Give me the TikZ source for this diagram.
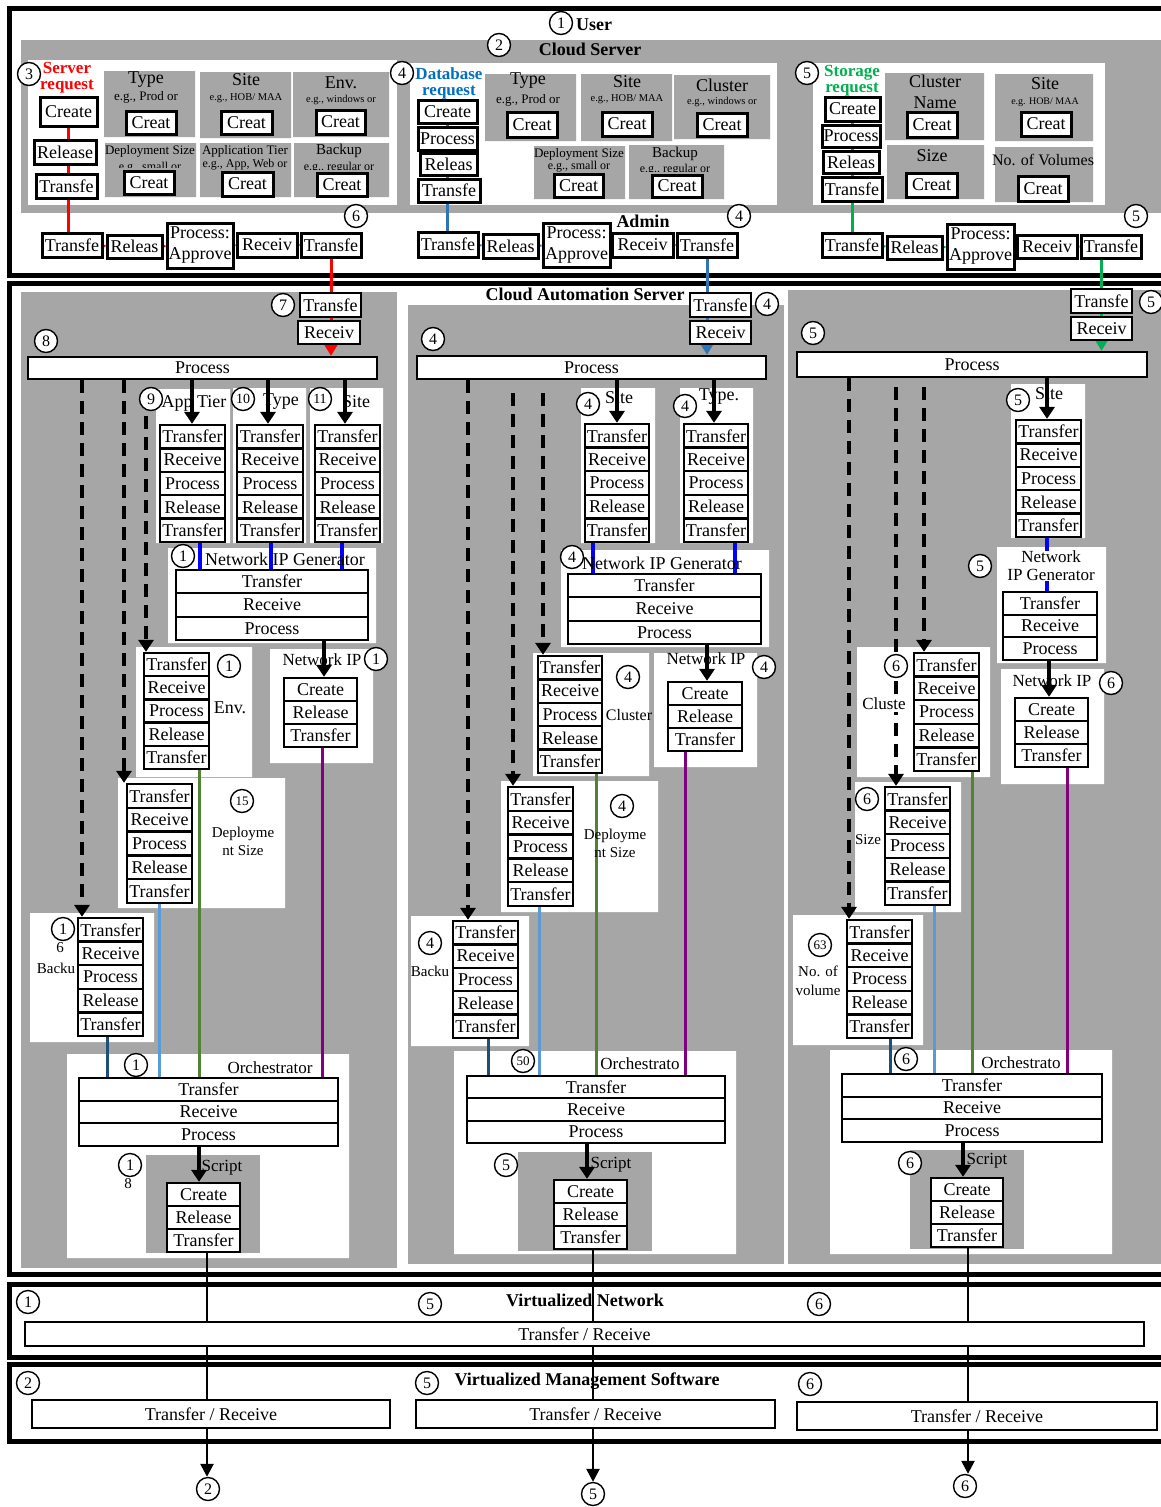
\documentclass[tikz,border=0pt]{standalone}
\usepackage{fontspec}
\setmainfont{Liberation Serif}
\usetikzlibrary{arrows.meta}
\pgfdeclarelayer{back}\pgfdeclarelayer{mid}\pgfsetlayers{back,mid,main}
\definecolor{pgray}{RGB}{166,166,166}
\definecolor{dbline}{RGB}{46,117,182}
\definecolor{dbtext}{RGB}{0,112,192}
\definecolor{sgreen}{RGB}{0,176,80}
\definecolor{pblue}{RGB}{0,0,255}
\definecolor{ppurple}{RGB}{128,0,128}
\definecolor{lblue}{RGB}{91,155,213}
\definecolor{ogreen}{RGB}{84,130,53}
\definecolor{dblue}{RGB}{31,78,121}
\newcommand\fS[1]{\fontsize{#1}{#1}\selectfont}
\newcommand\PA{\begin{tabular}{@{}c@{}}Process:\\[3pt]Approve\end{tabular}}
\tikzset{
 bx/.style={draw, fill=white, line width=2.3pt, inner sep=0pt, font={\fS{18}}},
 tb/.style={draw, fill=white, line width=3pt, inner sep=0pt, font={\fS{18}}},
 cnum/.style={circle, draw, fill=white, line width=1.4pt, minimum size=23pt, inner sep=0pt, font={\fS{16}}},
 lbl/.style={inner sep=0pt, font={\fS{17}}, align=center},
 conn/.style={line width=3pt},
 dline/.style={line width=4pt, dash pattern=on 13pt off 8pt, -{Triangle[width=15pt,length=12pt]}},
 sarr/.style={line width=4pt, -{Triangle[width=15pt,length=12pt]}},
 carr/.style={line width=3pt, -{Triangle[width=15pt,length=13pt]}},
 barr/.style={line width=2.5pt, -{Triangle[width=13pt,length=13pt]}},
}
\newcommand\bx[7][bx]{\node[#1,minimum width={(#5)-(#3)},minimum height={(#6)-(#4)}] (#2) at ({((#3)+(#5))/2},{((#4)+(#6))/2}) {\makebox[0pt]{#7}};}
\newcommand\stk[7]{\foreach \i/\lb in #7{\pgfmathsetmacro\ya{#4+(\i-1)*(#5-#4)/#6}\pgfmathsetmacro\yb{#4+\i*(#5-#4)/#6}\bx{#1-\i}{#2}{\ya}{#3}{\yb}{\lb}}}
\newcommand\cn[4][]{\node[cnum,#1] (#2) at (#3) {#4};}
\def\FIVE{1/Transfer,2/Receive,3/Process,4/Release,5/Transfer}
\def\TRP{1/Transfer,2/Receive,3/Process}
\def\CRT{1/Create,2/Release,3/Transfer}
\begin{document}
\begin{tikzpicture}[x=1pt,y=-1pt]
\useasboundingbox (0,0) rectangle (1160,1507);
\begin{pgfonlayer}{back}
\fill[white] (0,0) rectangle (1160,1507);
\draw[line width=5pt] (9,8) rectangle (1190,275);
\draw[line width=5pt] (9,283) rectangle (1190,1274);
\draw[line width=5pt] (9,1284) rectangle (1190,1357);
\draw[line width=5pt] (9,1364) rectangle (1190,1441);
\fill[pgray] (21,40) rectangle (1190,213);
\fill[white] (28,60) rectangle (397,205);
\fill[white] (410,63) rectangle (777,205);
\fill[white] (813,63) rectangle (1105,205);
\fill[pgray] (104,71) rectangle (195,137) (200,72) rectangle (291,138) (293,72) rectangle (389,137) (105,143) rectangle (196,197) (200,143) rectangle (291,197) (294,143) rectangle (389,197);
\fill[pgray] (485,74) rectangle (576,141) (581,74) rectangle (672,141) (674,75) rectangle (770,139) (534,146) rectangle (625,199) (629,145) rectangle (724,199);
\fill[pgray] (885,73) rectangle (984,140) (995,74) rectangle (1093,141) (887,145) rectangle (984,199) (995,147) rectangle (1093,202);
\fill[pgray] (21,292) rectangle (397,1268);
\fill[pgray] (408,305) rectangle (784,1264);
\fill[pgray] (788,290) rectangle (1190,1264);
\fill[white] (156,389) rectangle (230,543) (233,388) rectangle (306,543) (310,388) rectangle (383,543) (168,548) rectangle (376,643) (136,647) rectangle (252,777) (270,649) rectangle (373,763) (118,778) rectangle (285,908) (30,913) rectangle (154,1042) (67,1054) rectangle (349,1258);
\fill[pgray] (146,1155) rectangle (260,1253);
\fill[white] (581,388) rectangle (655,543) (680,388) rectangle (753,543) (561,550) rectangle (769,647) (533,653) rectangle (649,776) (654,653) rectangle (757,767) (501,781) rectangle (658,912) (411,916) rectangle (529,1046) (454,1051) rectangle (736,1254);
\fill[pgray] (518,1152) rectangle (652,1251);
\fill[white] (1011,384) rectangle (1085,538) (997,547) rectangle (1106,663) (857,647) rectangle (990,777) (1001,669) rectangle (1104,784) (855,782) rectangle (961,912) (793,915) rectangle (923,1045) (830,1050) rectangle (1112,1254);
\fill[pgray] (910,1150) rectangle (1024,1249);
\end{pgfonlayer}
% ---------- top titles
\cn{cU}{561,23}{1}
\node[lbl,font={\bfseries\fS{18}}] (tU) at (594,25) {User};
\cn{cCS}{499,45}{2}
\node[lbl,font={\bfseries\fS{18}}] (tCS) at (590,49) {Cloud Server};
% ---------- server request
\cn{c3}{29,74}{3}
\node[lbl,text=red,font={\bfseries\fontsize{17}{16}\selectfont}] (tSR) at (67,78) {Server\\request};
\bx[tb]{sC}{40}{97}{97}{126}{Create}
\bx[tb]{sRl}{34}{140}{96}{164}{Release}
\bx[tb]{sTf}{36}{174}{97}{198}{Transfe}
\node[lbl,font={\fS{18}}] (sty) at (146,80) {Type};
\node[lbl,font={\fS{13}}] (styE) at (146,97) {e.g., Prod or};
\bx[tb]{sty1}{126}{111}{176}{134}{Creat}
\node[lbl,font={\fS{18}}] (sst) at (246,80) {Site};
\node[lbl,font={\fS{10.5}}] (sstE) at (246,98) {e.g., HOB/ MAA};
\bx[tb]{sst1}{221}{111}{272}{134}{Creat}
\node[lbl,font={\fS{18}}] (sen) at (341,83) {Env.};
\node[lbl,font={\fS{10.5}}] (senE) at (341,100) {e.g., windows or};
\bx[tb]{sen1}{316}{110}{365}{134}{Creat}
\node[lbl,font={\fS{13}}] (sds) at (150,151) {Deployment Size};
\begin{scope}\clip (105,143) rectangle (196,167);
\node[lbl,font={\fS{12}}] (sdsE) at (150,168) {e.g., small or};
\end{scope}
\bx[tb]{sds1}{124}{171}{174}{194}{Creat}
\node[lbl,font={\fS{13}}] (sat) at (245,151) {Application Tier};
\node[lbl,font={\fS{12}}] (satE) at (245,165) {e.g., App, Web or};
\bx[tb]{sat1}{222}{172}{273}{196}{Creat}
\node[lbl,font={\fS{15}}] (sbk) at (339,151) {Backup};
\begin{scope}\clip (294,143) rectangle (389,169);
\node[lbl,font={\fS{12}}] (sbkE) at (339,168) {e.g., regular or};
\end{scope}
\bx[tb]{sbk1}{317}{173}{367}{196}{Creat}
\bx[tb]{sr1}{42}{233}{102}{257}{Transfe}
\bx[tb]{sr2}{107}{235}{162}{258}{Releas}
\bx[tb]{sr3}{167}{223}{233}{268}{\PA}
\bx[tb]{sr4}{237}{233}{297}{257}{Receiv}
\bx[tb]{sr5}{301}{233}{361}{257}{Transfe}
\cn{c6t}{356,216}{6}
% ---------- database request
\cn{c4a}{402,73}{4}
\node[lbl,text=dbtext,font={\bfseries\fontsize{17}{16}\selectfont}] (tDB) at (449,83) {Database\\request};
\bx[tb]{dC}{418}{100}{477}{123}{Create}
\bx[tb]{dP}{418}{127}{477}{150}{Process}
\bx[tb]{dR}{420}{153}{477}{175}{Releas}
\bx[tb]{dT}{418}{179}{480}{202}{Transfe}
\node[lbl,font={\fS{18}}] (dty) at (528,81) {Type};
\node[lbl,font={\fS{13}}] (dtyE) at (528,100) {e.g., Prod or};
\bx[tb]{dty1}{507}{112}{557}{137}{Creat}
\node[lbl,font={\fS{18}}] (dst) at (627,82) {Site};
\node[lbl,font={\fS{10.5}}] (dstE) at (627,99) {e.g., HOB/ MAA};
\bx[tb]{dst1}{602}{112}{652}{136}{Creat}
\node[lbl,font={\fS{18}}] (dcl) at (722,85) {Cluster};
\node[lbl,font={\fS{10.5}}] (dclE) at (722,102) {e.g., windows or};
\bx[tb]{dcl1}{697}{113}{747}{136}{Creat}
\node[lbl,font={\fS{13}}] (dds) at (579,154) {Deployment Size};
\node[lbl,font={\fS{12}}] (ddsE) at (579,167) {e.g., small or};
\bx[tb]{dds1}{554}{174}{603}{197}{Creat}
\node[lbl,font={\fS{15}}] (dbk) at (675,154) {Backup};
\begin{scope}\clip (629,145) rectangle (724,171);
\node[lbl,font={\fS{12}}] (dbkE) at (675,170) {e.g., regular or};
\end{scope}
\bx[tb]{dbk1}{652}{175}{702}{197}{Creat}
\bx[tb]{dr1}{418}{232}{478}{257}{Transfe}
\bx[tb]{dr2}{483}{234}{538}{258}{Releas}
\bx[tb]{dr3}{543}{223}{610}{267}{\PA}
\bx[tb]{dr4}{612}{233}{673}{257}{Receiv}
\bx[tb]{dr5}{677}{233}{737}{257}{Transfe}
\node[lbl,font={\bfseries\fS{18}}] (tAd) at (643,221) {Admin};
\cn{c4b}{739,216}{4}
% ---------- storage request
\cn{c5a}{807,73}{5}
\node[lbl,text=sgreen,font={\bfseries\fontsize{17}{16}\selectfont}] (tST) at (852,81) {Storage\\request};
\bx[tb]{gC}{825}{97}{880}{121}{Create}
\bx[tb]{gP}{822}{125}{880}{147}{Process}
\bx[tb]{gR}{823}{151}{879}{173}{Releas}
\bx[tb]{gT}{822}{177}{882}{201}{Transfe}
\node[lbl,font={\fontsize{18}{21}\selectfont}] (gcn) at (935,92) {Cluster\\Name};
\bx[tb]{gcn1}{907}{112}{957}{137}{Creat}
\node[lbl,font={\fS{18}}] (gst) at (1045,84) {Site};
\node[lbl,font={\fS{10}}] (gstE) at (1045,102) {e.g. HOB/ MAA};
\bx[tb]{gst1}{1021}{112}{1071}{136}{Creat}
\node[lbl,font={\fS{18}}] (gsz) at (932,156) {Size};
\bx[tb]{gsz1}{906}{173}{957}{197}{Creat}
\node[lbl,font={\fS{16}}] (gnv) at (1043,160) {No. of Volumes};
\bx[tb]{gnv1}{1018}{176}{1068}{201}{Creat}
\bx[tb]{gr1}{822}{233}{882}{257}{Transfe}
\bx[tb]{gr2}{887}{236}{942}{259}{Releas}
\bx[tb]{gr3}{947}{224}{1014}{269}{\PA}
\bx[tb]{gr4}{1017}{235}{1077}{258}{Receiv}
\bx[tb]{gr5}{1081}{235}{1141}{258}{Transfe}
\cn{c5b}{1136,216}{5}
% ---------- cloud automation server
\node[lbl,font={\bfseries\fS{18}}] (tCA) at (585,294) {Cloud Automation Server};
% column 1
\bx{ar1}{300}{293}{361}{317}{Transfe}
\bx{ar2}{298}{321}{360}{344}{Receiv}
\cn{c7}{283,305}{7}
\cn{c8}{46,341}{8}
\bx{p1}{28}{357}{377}{379}{Process}
\stk{a1}{160}{225}{425}{542}{5}{\FIVE}
\stk{a2}{237}{303}{425}{542}{5}{\FIVE}
\stk{a3}{315}{380}{425}{542}{5}{\FIVE}
\node[lbl,font={\fS{18}}] (l9) at (194,403) {App Tier};
\cn{c9}{151,399}{9}
\node[lbl,font={\fS{18}}] (l10) at (281,402) {Type};
\cn[font={\fS{14}}]{c10}{243,399}{10}
\node[lbl,font={\fS{18}}] (l11) at (356,402) {Site};
\cn[font={\fS{14}}]{c11}{320,399}{11}
\node[lbl,font={\fS{18}}] (lnig1) at (285,559) {Network IP Generator};
\cn{c1n}{183,556}{1}
\stk{n1}{176}{368}{570}{640}{3}{\TRP}
\stk{e1}{144}{209}{653}{769}{5}{\FIVE}
\cn{c1e}{229,666}{1}
\node[lbl,font={\fS{18}}] (lenv) at (230,708) {Env.};
\node[lbl] (lip1) at (322,660) {Network IP};
\cn{c1ip}{376,659}{1}
\stk{ip1}{284}{357}{678}{747}{3}{\CRT}
\stk{d1}{127}{192}{784}{903}{5}{\FIVE}
\cn[font={\fS{13}}]{c15}{242,801}{15}
\node[lbl,font={\fontsize{15}{18}\selectfont}] (l15) at (243,841) {Deployme\\nt Size};
\stk{b1}{78}{143}{918}{1036}{5}{\FIVE}
\cn{c16}{63,929}{1}
\node[lbl,font={\fS{15}}] (l16a) at (60,948) {6};
\node[lbl,font={\fS{15}}] (l16b) at (56,968) {Backu};
\node[lbl] (lor1) at (270,1068) {Orchestrator};
\cn{c1o}{136,1065}{1}
\stk{o1}{79}{338}{1078}{1146}{3}{\TRP}
\cn{c18}{130,1165}{1}
\node[lbl,font={\fS{15}}] (l18) at (128,1184) {8};
\node[lbl] (lsc1) at (222,1168) {Script};
\stk{sc1}{167}{240}{1183}{1252}{3}{\CRT}
% column 2
\bx{br1}{690}{293}{751}{317}{Transfe}
\bx{br2}{690}{321}{751}{344}{Receiv}
\cn{c4c}{767,304}{4}
\cn{c4d}{433,339}{4}
\bx{p2}{417}{356}{766}{379}{Process}
\stk{s2}{585}{649}{424}{542}{5}{\FIVE}
\stk{t2}{684}{748}{424}{542}{5}{\FIVE}
\node[lbl,font={\fS{18}}] (ls2) at (619,398) {Site};
\cn{c4e}{588,404}{4}
\node[lbl,font={\fS{18}}] (lt2) at (719,397) {Type.};
\cn{c4f}{685,406}{4}
\node[lbl,font={\fS{18}}] (lnig2) at (662,563) {Network IP Generator};
\cn{c4g}{572,557}{4}
\stk{n2}{568}{761}{574}{644}{3}{\TRP}
\stk{cl2}{538}{602}{656}{773}{5}{\FIVE}
\cn{c4h}{628,677}{4}
\node[lbl,font={\fS{16}}] (lcl2) at (629,715) {Cluster};
\node[lbl] (lip2) at (706,659) {Network IP};
\cn{c4i}{764,667}{4}
\stk{ip2}{668}{742}{682}{751}{3}{\CRT}
\stk{d2}{508}{573}{787}{906}{5}{\FIVE}
\cn{c4j}{622,806}{4}
\node[lbl,font={\fontsize{15}{18}\selectfont}] (ld2) at (615,843) {Deployme\\nt Size};
\stk{bk2}{453}{518}{921}{1038}{5}{\FIVE}
\cn{c4k}{430,943}{4}
\node[lbl,font={\fS{15}}] (lbk2) at (430,971) {Backu};
\node[lbl] (lor2) at (640,1064) {Orchestrato};
\cn[font={\fS{13}}]{c50}{523,1061}{50}
\stk{o2}{467}{725}{1076}{1143}{3}{\TRP}
\cn{c5s}{506,1165}{5}
\node[lbl] (lsc2) at (611,1165) {Script};
\stk{sc2}{554}{627}{1180}{1249}{3}{\CRT}
% column 3
\bx{cr1}{1071}{289}{1132}{313}{Transfe}
\bx{cr2}{1071}{317}{1132}{340}{Receiv}
\cn{c5c}{1151,302}{5}
\cn{c5d}{813,333}{5}
\bx{p3}{797}{352}{1147}{377}{Process}
\stk{s3}{1016}{1081}{420}{537}{5}{\FIVE}
\node[lbl,font={\fS{18}}] (ls3) at (1049,394) {Site};
\cn{c5e}{1018,400}{5}
\node[lbl,fill=white,font={\fontsize{17}{18}\selectfont}] (lnig3) at (1051,566) {Network\\IP Generator};
\cn{c5f}{980,566}{5}
\stk{n3}{1003}{1097}{592}{660}{3}{\TRP}
\stk{cl3}{914}{979}{653}{771}{5}{\FIVE}
\cn{c6a}{896,666}{6}
\node[lbl,fill=white,inner sep=2pt] (lcl3) at (884,704) {Cluste};
\node[lbl] (lip3) at (1052,681) {Network IP};
\cn{c6b}{1111,683}{6}
\stk{ip3}{1015}{1088}{698}{767}{3}{\CRT}
\stk{sz3}{885}{950}{787}{905}{5}{\FIVE}
\cn{c6c}{867,799}{6}
\node[lbl,font={\fS{15}}] (lsz3) at (868,840) {Size};
\stk{v3}{847}{912}{920}{1038}{5}{\FIVE}
\cn[font={\fS{13}}]{c63}{820,945}{63}
\node[lbl,font={\fontsize{15}{19}\selectfont}] (lv3) at (818,981) {No. of\\volume};
\node[lbl] (lor3) at (1021,1063) {Orchestrato};
\cn{c6d}{906,1059}{6}
\node[lbl,font={\fS{12}}] (l6d) at (905,1078) {4};
\stk{o3}{842}{1102}{1074}{1142}{3}{\TRP}
\cn{c6e}{910,1163}{6}
\node[lbl] (lsc3) at (987,1161) {Script};
\stk{sc3}{931}{1003}{1178}{1247}{3}{\CRT}
% ---------- bottom sections
\node[lbl,font={\bfseries\fS{18}}] (tVN) at (585,1300) {Virtualized Network};
\cn{cv1}{28,1302}{1}
\cn{cv5}{430,1304}{5}
\cn{cv6}{819,1304}{6}
\bx{vn}{25}{1322}{1144}{1346}{Transfer / Receive}
\node[lbl,font={\bfseries\fS{18}}] (tVM) at (587,1381) {Virtualized Management Software};
\cn{cm2}{28,1383}{2}
\cn{cm5}{427,1383}{5}
\cn{cm6}{810,1384}{6}
\bx{vm1}{32}{1400}{390}{1428}{Transfer / Receive}
\bx{vm2}{416}{1400}{775}{1428}{Transfer / Receive}
\bx{vm3}{797}{1402}{1157}{1430}{Transfer / Receive}
\cn{bc2}{208,1489}{2}
\cn{bc5}{593,1494}{5}
\cn{bc6}{965,1486}{6}
% ---------- connectors
\begin{pgfonlayer}{mid}
\draw[red,conn] (sC.south) -- (sC.south |- sr1.north);
\draw[red,line width=2pt] (sr1) -- (sr2) -- (sr3) -- (sr4) -- (sr5);
\draw[red,carr] (sr5.south) -- (sr5.south |- p1.north);
\draw[dbline,conn] (dC.south) -- (dC.south |- dr1.north);
\draw[dbline,line width=2pt] (dr1) -- (dr2) -- (dr3) -- (dr4) -- (dr5);
\draw[dbline,carr] (dr5.south) -- (dr5.south |- p2.north);
\draw[sgreen,conn] (gC.south) -- (gC.south |- gr1.north);
\draw[sgreen,line width=2pt] (gr1) -- (gr2) -- (gr3) -- (gr4) -- (gr5);
\draw[sgreen,carr] (cr1.north |- gr5.south) -- (cr1.north |- p3.north);
% col1
\draw[dline] (82,0 |- p1.south) -- (82,0 |- b1-1.north);
\draw[dline] (124,0 |- p1.south) -- (124,0 |- d1-1.north);
\draw[dline] (146,416) -- (146,0 |- e1-1.north);
\draw[sarr] (192,0 |- p1.south) -- (192,0 |- a1-1.north);
\draw[sarr] (268,0 |- p1.south) -- (268,0 |- a2-1.north);
\draw[sarr] (345,0 |- p1.south) -- (345,0 |- a3-1.north);
\draw[pblue,line width=4pt] (200,0 |- a1-5.south) -- (200,0 |- n1-1.north);
\draw[pblue,line width=4pt] (271,0 |- a2-5.south) -- (271,0 |- n1-1.north);
\draw[pblue,line width=4pt] (342,0 |- a3-5.south) -- (342,0 |- n1-1.north);
\draw[sarr] (324,0 |- n1-3.south) -- (324,0 |- ip1-1.north);
\draw[ppurple,conn] (322,0 |- ip1-3.south) -- (322,0 |- o1-1.north);
\draw[lblue,conn] (159,0 |- d1-5.south) -- (159,0 |- o1-1.north);
\draw[ogreen,conn] (199,0 |- e1-5.south) -- (199,0 |- o1-1.north);
\draw[dblue,conn] (107,0 |- b1-5.south) -- (107,0 |- o1-1.north);
\draw[sarr] (199,0 |- o1-3.south) -- (199,0 |- sc1-1.north);
\draw[barr] (207,0 |- sc1-3.south) -- (207,0 |- bc2.north);
% col2
\draw[dline] (468,0 |- p2.south) -- (468,0 |- bk2-1.north);
\draw[dline] (513,393) -- (513,0 |- d2-1.north);
\draw[dline] (543,393) -- (543,0 |- cl2-1.north);
\draw[sarr] (617,0 |- p2.south) -- (617,0 |- s2-1.north);
\draw[sarr] (714,0 |- p2.south) -- (714,0 |- t2-1.north);
\draw[pblue,line width=4pt] (593,0 |- s2-5.south) -- (593,0 |- n2-1.north);
\draw[pblue,line width=4pt] (735,0 |- t2-5.south) -- (735,0 |- n2-1.north);
\draw[sarr] (707,0 |- n2-3.south) -- (707,0 |- ip2-1.north);
\draw[ppurple,conn] (685,0 |- ip2-3.south) -- (685,0 |- o2-1.north);
\draw[lblue,conn] (539,0 |- d2-5.south) -- (539,0 |- o2-1.north);
\draw[ogreen,conn] (596,0 |- cl2-5.south) -- (596,0 |- o2-1.north);
\draw[dblue,conn] (488,0 |- bk2-5.south) -- (488,0 |- o2-1.north);
\draw[sarr] (587,0 |- o2-3.south) -- (587,0 |- sc2-1.north);
\draw[barr] (593,0 |- sc2-3.south) -- (593,0 |- bc5.north);
% col3
\draw[dline] (849,0 |- p3.south) -- (849,0 |- v3-1.north);
\draw[dline] (896,387) -- (896,0 |- sz3-1.north);
\draw[dline] (924,387) -- (924,0 |- cl3-1.north);
\draw[sarr] (1047,0 |- p3.south) -- (1047,0 |- s3-1.north);
\draw[pblue,line width=4pt] (1047,0 |- s3-5.south) -- (1047,0 |- n3-1.north);
\draw[sarr] (1049,0 |- n3-3.south) -- (1049,0 |- ip3-1.north);
\draw[ppurple,conn] (1067,0 |- ip3-3.south) -- (1067,0 |- o3-1.north);
\draw[lblue,conn] (934,0 |- sz3-5.south) -- (934,0 |- o3-1.north);
\draw[ogreen,conn] (972,0 |- cl3-5.south) -- (972,0 |- o3-1.north);
\draw[dblue,conn] (890,0 |- v3-5.south) -- (890,0 |- o3-1.north);
\draw[sarr] (963,0 |- o3-3.south) -- (963,0 |- sc3-1.north);
\draw[barr] (968,0 |- sc3-3.south) -- (968,0 |- bc6.north);
\end{pgfonlayer}
\end{tikzpicture}
\end{document}
